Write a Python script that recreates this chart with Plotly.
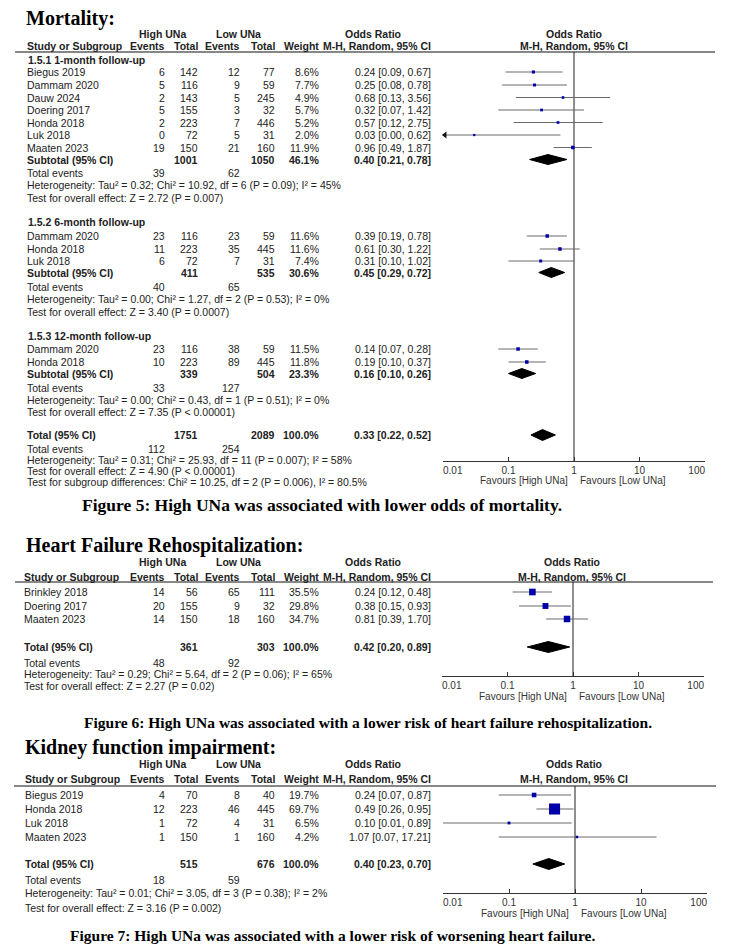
import math
import plotly.graph_objects as go

# The page places the figure 8 px from the top-left corner, so the figure is
# 8 px smaller and its inner coordinates are expressed in window pixels.
OFF = 8
WIN_W, WIN_H = 740, 950
W, H = WIN_W - OFF, WIN_H - OFF
FS = 10.5
SANS = "Liberation Sans, Arial, sans-serif"
SERIF = "Liberation Serif, Times New Roman, serif"
TXT = "#222222"
SQ = "#0000a8"
CI = "#6a6a6a"
XMIN, XMAX = 0.01, 100

# ---------------- DATA: Mortality ----------------
m1_study = ["Biegus 2019", "Dammam 2020", "Dauw 2024", "Doering 2017", "Honda 2018", "Luk 2018", "Maaten 2023"]
m1_he = [6, 5, 2, 5, 2, 0, 19]
m1_ht = [142, 116, 143, 155, 223, 72, 150]
m1_le = [12, 9, 5, 3, 7, 5, 21]
m1_lt = [77, 59, 245, 32, 446, 31, 160]
m1_w = [8.6, 7.7, 4.9, 5.7, 5.2, 2.0, 11.9]
m1_or = [0.24, 0.25, 0.68, 0.32, 0.57, 0.03, 0.96]
m1_lo = [0.09, 0.08, 0.13, 0.07, 0.12, 0.00, 0.49]
m1_hi = [0.67, 0.78, 3.56, 1.42, 2.75, 0.62, 1.87]
m1_sub = [1001, 1050, 46.1, 0.40, 0.21, 0.78]
m1_events = [39, 62]
m1_het = "Heterogeneity: Tau² = 0.32; Chi² = 10.92, df = 6 (P = 0.09); I² = 45%"
m1_test = "Test for overall effect: Z = 2.72 (P = 0.007)"

m2_study = ["Dammam 2020", "Honda 2018", "Luk 2018"]
m2_he = [23, 11, 6]
m2_ht = [116, 223, 72]
m2_le = [23, 35, 7]
m2_lt = [59, 445, 31]
m2_w = [11.6, 11.6, 7.4]
m2_or = [0.39, 0.61, 0.31]
m2_lo = [0.19, 0.30, 0.10]
m2_hi = [0.78, 1.22, 1.02]
m2_sub = [411, 535, 30.6, 0.45, 0.29, 0.72]
m2_events = [40, 65]
m2_het = "Heterogeneity: Tau² = 0.00; Chi² = 1.27, df = 2 (P = 0.53); I² = 0%"
m2_test = "Test for overall effect: Z = 3.40 (P = 0.0007)"

m3_study = ["Dammam 2020", "Honda 2018"]
m3_he = [23, 10]
m3_ht = [116, 223]
m3_le = [38, 89]
m3_lt = [59, 445]
m3_w = [11.5, 11.8]
m3_or = [0.14, 0.19]
m3_lo = [0.07, 0.10]
m3_hi = [0.28, 0.37]
m3_sub = [339, 504, 23.3, 0.16, 0.10, 0.26]
m3_events = [33, 127]
m3_het = "Heterogeneity: Tau² = 0.00; Chi² = 0.43, df = 1 (P = 0.51); I² = 0%"
m3_test = "Test for overall effect: Z = 7.35 (P < 0.00001)"

m_tot = [1751, 2089, 100.0, 0.33, 0.22, 0.52]
m_tot_events = [112, 254]
m_tot_het = "Heterogeneity: Tau² = 0.31; Chi² = 25.93, df = 11 (P = 0.007); I² = 58%"
m_tot_test = "Test for overall effect: Z = 4.90 (P < 0.00001)"
m_tot_sub = "Test for subgroup differences: Chi² = 10.25, df = 2 (P = 0.006), I² = 80.5%"

# ---------------- DATA: HF rehospitalization ----------------
h_study = ["Brinkley 2018", "Doering 2017", "Maaten 2023"]
h_he = [14, 20, 14]
h_ht = [56, 155, 150]
h_le = [65, 9, 18]
h_lt = [111, 32, 160]
h_w = [35.5, 29.8, 34.7]
h_or = [0.24, 0.38, 0.81]
h_lo = [0.12, 0.15, 0.39]
h_hi = [0.48, 0.93, 1.70]
h_tot = [361, 303, 100.0, 0.42, 0.20, 0.89]
h_events = [48, 92]
h_het = "Heterogeneity: Tau² = 0.29; Chi² = 5.64, df = 2 (P = 0.06); I² = 65%"
h_test = "Test for overall effect: Z = 2.27 (P = 0.02)"

# ---------------- DATA: Kidney function impairment ----------------
k_study = ["Biegus 2019", "Honda 2018", "Luk 2018", "Maaten 2023"]
k_he = [4, 12, 1, 1]
k_ht = [70, 223, 72, 150]
k_le = [8, 46, 4, 1]
k_lt = [40, 445, 31, 160]
k_w = [19.7, 69.7, 6.5, 4.2]
k_or = [0.24, 0.49, 0.10, 1.07]
k_lo = [0.07, 0.26, 0.01, 0.07]
k_hi = [0.87, 0.95, 0.89, 17.21]
k_tot = [515, 676, 100.0, 0.40, 0.23, 0.70]
k_events = [18, 59]
k_het = "Heterogeneity: Tau² = 0.01; Chi² = 3.05, df = 3 (P = 0.38); I² = 2%"
k_test = "Test for overall effect: Z = 3.16 (P = 0.002)"

tick_vals = [0.01, 0.1, 1, 10, 100]
tick_text = ["0.01", "0.1", "1", "10", "100"]

# ---------------- helpers ----------------
COL_HE, COL_HT, COL_LE, COL_LT, COL_W, COL_OR = 167, 200, 242, 277, 321, 433
NB = "\u00a0"
# first label starts at its tick, last label ends at its tick (as in RevMan)
tick_show = [NB * 7 + tick_text[0]] + tick_text[1:-1] + [tick_text[-1] + NB * 6]

fig = go.Figure()
ann = []
shapes = []


def t(x, y, s, xa="left", size=FS, bold=False, fam=SANS, color=TXT):
    if bold:
        s = "<b>" + s + "</b>"
    ann.append(dict(x=x, y=y, xref="x", yref="y", text=s, showarrow=False,
                    xanchor=xa, yanchor="middle", font=dict(size=size, family=fam, color=color)))


def header(y1, y2, yline, left, fcx, xl0, xl1):
    t(162, y1, "High UNa", "center", bold=True)
    t(238, y1, "Low UNa", "center", bold=True)
    t(373, y1, "Odds Ratio", "center", bold=True)
    t(fcx, y1, "Odds Ratio", "center", bold=True)
    t(left, y2, "Study or Subgroup", bold=True)
    t(COL_HE, y2, "Events", "right", bold=True)
    t(COL_HT, y2, "Total", "right", bold=True)
    t(COL_LE, y2, "Events", "right", bold=True)
    t(COL_LT, y2, "Total", "right", bold=True)
    t(COL_W, y2, "Weight", "right", bold=True)
    t(COL_OR, y2, "M-H, Random, 95% CI", "right", bold=True)
    t(fcx, y2, "M-H, Random, 95% CI", "center", bold=True)
    shapes.append(dict(type="line", xref="x", yref="y", x0=xl0, x1=xl1, y0=yline, y1=yline,
                       line=dict(color="#111111", width=1.2)))


def studies(ys, names, he, ht, le, lt, w, orr, lo, hi, left, xa):
    for i in range(len(names)):
        y = ys[i]
        t(left, y, names[i])
        t(COL_HE, y, str(he[i]), "right")
        t(COL_HT, y, str(ht[i]), "right")
        t(COL_LE, y, str(le[i]), "right")
        t(COL_LT, y, str(lt[i]), "right")
        t(COL_W, y, f"{w[i]:.1f}%", "right")
        t(COL_OR, y, f"{orr[i]:.2f} [{lo[i]:.2f}, {hi[i]:.2f}]", "right")
        lo_p = max(lo[i], XMIN)
        hi_p = min(hi[i], XMAX)
        fig.add_trace(go.Scatter(x=[lo_p, hi_p], y=[y, y], xaxis=xa, yaxis="y", mode="lines",
                                 line=dict(color=CI, width=1.1), hoverinfo="skip"))
        if lo[i] < XMIN:
            fig.add_trace(go.Scatter(x=[XMIN * 1.07], y=[y], xaxis=xa, yaxis="y", mode="markers",
                                     marker=dict(symbol="triangle-left", size=6, color="#111111"),
                                     cliponaxis=False, hoverinfo="skip"))
    sizes = [2 + 0.13 * v for v in w]
    fig.add_trace(go.Scatter(x=orr, y=ys, xaxis=xa, yaxis="y", mode="markers",
                             marker=dict(symbol="square", size=sizes, color=SQ, opacity=1,
                                         line=dict(width=0)),
                             cliponaxis=False))


def summary(y, label, vals, left, xa, h=5):
    t(left, y, label, bold=True)
    t(COL_HT, y, str(vals[0]), "right", bold=True)
    t(COL_LT, y, str(vals[1]), "right", bold=True)
    t(COL_W, y, f"{vals[2]:.1f}%", "right", bold=True)
    t(COL_OR, y, f"{vals[3]:.2f} [{vals[4]:.2f}, {vals[5]:.2f}]", "right", bold=True)
    est, lo, hi = vals[3], vals[4], vals[5]
    fig.add_trace(go.Scatter(x=[lo, est, hi, est, lo], y=[y, y - h, y, y + h, y], xaxis=xa, yaxis="y",
                             mode="lines", fill="toself", fillcolor="#000000",
                             line=dict(color="#000000", width=1), hoverinfo="skip"))


def foot(y_ev, y_het, y_test, events, het, test, left):
    t(left, y_ev, "Total events")
    t(COL_HE, y_ev, str(events[0]), "right")
    t(COL_LE, y_ev, str(events[1]), "right")
    t(left, y_het, het)
    t(left, y_test, test)


def forest_axis(name, px0, px1, y_axis, y_top, fav_y):
    fig.update_layout(**{name: dict(type="log", range=[-2, 2],
                                    domain=[(px0 - OFF) / W, (px1 - OFF) / W],
                                    anchor="free", position=1 - (y_axis - OFF) / H,
                                    showline=True, linecolor="#333333", linewidth=1.2,
                                    ticks="inside", ticklen=4, tickwidth=1.2, tickcolor="#333333",
                                    tickvals=tick_vals, ticktext=tick_show,
                                    tickfont=dict(size=10, family=SANS, color="#333333"),
                                    showgrid=False, zeroline=False, fixedrange=True)})
    xa = "x" + name.replace("xaxis", "")
    fig.add_trace(go.Scatter(x=[1, 1], y=[y_top, y_axis], xaxis=xa, yaxis="y", mode="lines",
                             line=dict(color="#444444", width=1.2), hoverinfo="skip"))
    cx = px0 + (px1 - px0) / 2
    t(cx - 4, fav_y, "Favours [High UNa]", "right", size=10, color="#333333")
    t(cx + 4, fav_y, "Favours [Low UNa]", "left", size=10, color="#333333")
    return xa


# invisible trace to create the text axes
fig.add_trace(go.Scatter(x=[OFF + 1], y=[OFF + 1], mode="markers", marker=dict(opacity=0), hoverinfo="skip"))

# ================= Panel 1: Mortality =================
t(24, 18, "Mortality:", size=20, bold=True, fam=SERIF, color="#000000")
header(34, 46, 52, 25, 574, 15, 715)
xa2 = forest_axis("xaxis2", 443, 705, 461, 52, 480)

t(26, 59.5, "1.5.1 1-month follow-up", bold=True)
studies([72, 85, 97.5, 110, 122.5, 135, 147.5], m1_study, m1_he, m1_ht, m1_le, m1_lt, m1_w,
        m1_or, m1_lo, m1_hi, 25, xa2)
summary(159.5, "Subtotal (95% CI)", m1_sub, 25, xa2)
foot(173, 185, 197.5, m1_events, m1_het, m1_test, 25)

t(26, 222, "1.5.2 6-month follow-up", bold=True)
studies([236, 249, 261], m2_study, m2_he, m2_ht, m2_le, m2_lt, m2_w, m2_or, m2_lo, m2_hi, 25, xa2)
summary(272.5, "Subtotal (95% CI)", m2_sub, 25, xa2)
foot(287, 299, 311.5, m2_events, m2_het, m2_test, 25)

t(26, 336, "1.5.3 12-month follow-up", bold=True)
studies([349, 362], m3_study, m3_he, m3_ht, m3_le, m3_lt, m3_w, m3_or, m3_lo, m3_hi, 25, xa2)
summary(373.5, "Subtotal (95% CI)", m3_sub, 25, xa2)
foot(387.5, 400, 412, m3_events, m3_het, m3_test, 25)

summary(435, "Total (95% CI)", m_tot, 25, xa2, h=5.5)
foot(449, 460, 471, m_tot_events, m_tot_het, m_tot_test, 25)
t(25, 482, m_tot_sub)

t(80, 505, "Figure 5: High UNa was associated with lower odds of mortality.", size=17.5, bold=True,
  fam=SERIF, color="#000000")

# ================= Panel 2: HF rehospitalization =================
t(24, 545, "Heart Failure Rehospitalization:", size=20, bold=True, fam=SERIF, color="#000000")
header(562, 577, 582, 22, 572, 15, 713)
xa3 = forest_axis("xaxis3", 442, 704, 676, 582, 696)
studies([592, 606, 619], h_study, h_he, h_ht, h_le, h_lt, h_w, h_or, h_lo, h_hi, 22, xa3)
summary(647, "Total (95% CI)", h_tot, 22, xa3, h=5.5)
foot(663, 674, 686, h_events, h_het, h_test, 22)

t(82, 722, "Figure 6: High UNa was associated with a lower risk of heart failure rehospitalization.",
  size=15.5, bold=True, fam=SERIF, color="#000000")

# ================= Panel 3: Kidney =================
t(23, 747, "Kidney function impairment:", size=20, bold=True, fam=SERIF, color="#000000")
header(764, 779, 786, 23, 574, 14, 716)
xa4 = forest_axis("xaxis4", 443, 707, 893, 786, 913)
studies([795, 809, 823, 837], k_study, k_he, k_ht, k_le, k_lt, k_w, k_or, k_lo, k_hi, 23, xa4)
summary(864, "Total (95% CI)", k_tot, 23, xa4, h=5.5)
foot(880, 893, 908, k_events, k_het, k_test, 23)

t(68, 935, "Figure 7: High UNa was associated with a lower risk of worsening heart failure.",
  size=15.5, bold=True, fam=SERIF, color="#000000")

fig.update_layout(
    width=W, height=H, autosize=False,
    margin=dict(l=0, r=0, t=0, b=0, autoexpand=False),
    paper_bgcolor="white", plot_bgcolor="rgba(0,0,0,0)",
    showlegend=False,
    xaxis=dict(range=[OFF, WIN_W], domain=[0, 1], visible=False, fixedrange=True),
    yaxis=dict(range=[WIN_H, OFF], domain=[0, 1], visible=False, fixedrange=True),
    annotations=ann,
    shapes=shapes,
    hovermode=False,
)

fig.write_html("out.html")
